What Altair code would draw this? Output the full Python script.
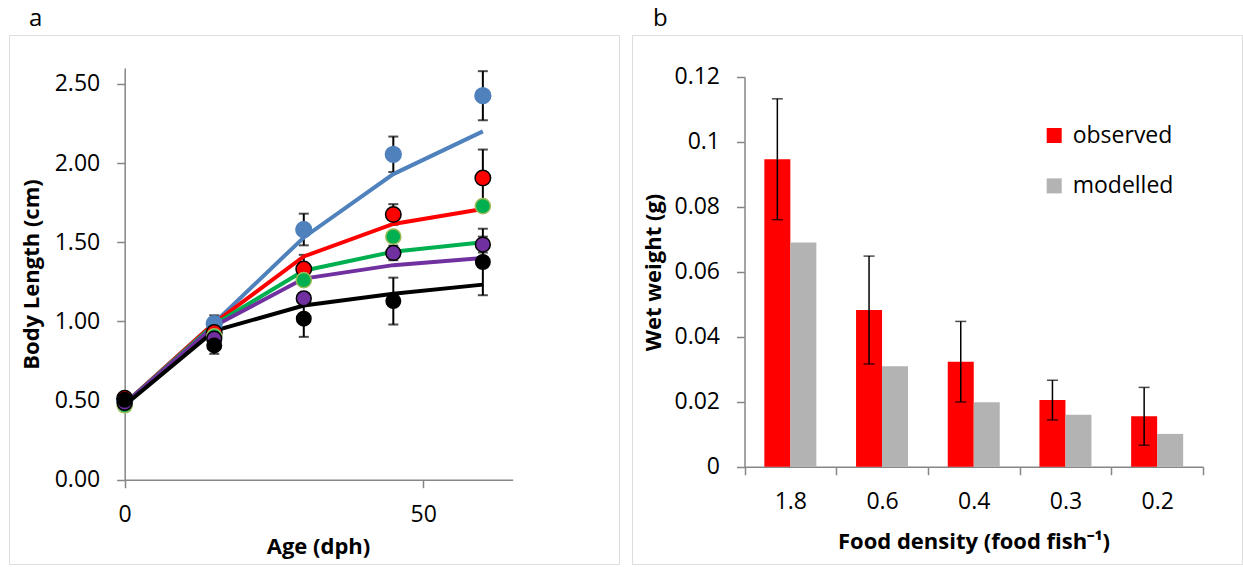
import altair as alt
import pandas as pd

# ---------------- data: panel a ----------------
ages = [0, 15, 30, 45, 60]
densities = ["1.8", "0.6", "0.4", "0.3", "0.2"]

obs_18 = [0.50, 0.985, 1.58, 2.055, 2.425]
obs_06 = [0.515, 0.93, 1.33, 1.675, 1.905]
obs_04 = [0.47, 0.905, 1.26, 1.535, 1.728]
obs_03 = [0.485, 0.89, 1.145, 1.432, 1.485]
obs_02 = [0.505, 0.848, 1.017, 1.128, 1.375]

err_18 = [0.0, 0.053, 0.10, 0.112, 0.155]
err_06 = [0.0, 0.03, 0.09, 0.065, 0.18]
err_04 = [0.0, 0.03, 0.03, 0.03, 0.03]
err_03 = [0.0, 0.03, 0.03, 0.046, 0.05]
err_02 = [0.0, 0.053, 0.115, 0.148, 0.21]

mod_18 = [0.48, 0.99, 1.53, 1.93, 2.20]
mod_06 = [0.48, 0.99, 1.41, 1.615, 1.71]
mod_04 = [0.48, 0.98, 1.32, 1.44, 1.50]
mod_03 = [0.48, 0.97, 1.27, 1.355, 1.40]
mod_02 = [0.47, 0.94, 1.10, 1.175, 1.232]

line_colors = ["#4F81BD", "#FF0000", "#00B050", "#7030A0", "#000000"]
fill_colors = ["#4F81BD", "#FF0000", "#00B050", "#7030A0", "#000000"]
edge_colors = ["#4F81BD", "#000000", "#9BBB59", "#000000", "#000000"]
marker_sizes = [250, 210, 210, 135, 140]

# ---------------- data: panel b ----------------
food_cats = ["1.8", "0.6", "0.4", "0.3", "0.2"]
observed = [0.0946, 0.0482, 0.0323, 0.0205, 0.0155]
modelled = [0.069, 0.0309, 0.0198, 0.016, 0.0101]
obs_err = [0.0186, 0.0166, 0.0124, 0.0061, 0.0089]
bar_types = ["observed", "modelled"]
bar_colors = ["#FF0000", "#B3B3B3"]

panel_labels = ["a", "b"]

FONT = "Open Sans"
AX = "#868686"

# ---------------- tables ----------------
obs_rows, mod_rows = [], []
for i, (d, ov, ev, mv) in enumerate(zip(
        densities,
        [obs_18, obs_06, obs_04, obs_03, obs_02],
        [err_18, err_06, err_04, err_03, err_02],
        [mod_18, mod_06, mod_04, mod_03, mod_02])):
    for a, o, e, m in zip(ages, ov, ev, mv):
        obs_rows.append(dict(density=d, k=i, age=a, value=o, lo=o - e, hi=o + e))
        mod_rows.append(dict(density=d, k=i, age=a, model=m))
obs_df = pd.DataFrame(obs_rows)
mod_df = pd.DataFrame(mod_rows)

bar_rows, err_rows = [], []
for c, o, m, e in zip(food_cats, observed, modelled, obs_err):
    bar_rows.append(dict(food=c, type="observed", value=o))
    bar_rows.append(dict(food=c, type="modelled", value=m))
    err_rows.append(dict(food=c, type="observed", lo=o - e, hi=o + e))
bar_df = pd.DataFrame(bar_rows)
err_df = pd.DataFrame(err_rows)


def panel_label(txt, dx):
    return alt.Chart(pd.DataFrame({"t": [txt]})).mark_text(
        font=FONT, fontSize=24, color="#000000", align="left", baseline="alphabetic"
    ).encode(text="t:N", x=alt.value(dx), y=alt.value(-9))


# ---------------- panel a ----------------
W, H = 610, 529
ax_common = dict(
    domainColor=AX, domainWidth=1.5, tickColor=AX, tickWidth=1.5, tickSize=8,
    labelFont=FONT, labelFontSize=23, labelColor="#000000", labelFlush=False,
    titleFont=FONT, titleFontSize=22, titleFontWeight="bold", titleColor="#000000",
    grid=False,
)

xa = alt.X("age:Q",
           scale=alt.Scale(domain=[0, 65], range=[115.7, 503.7], nice=False, zero=False),
           axis=alt.Axis(values=[0, 50], format="d", offset=-84.3, labelPadding=16,
                         title="Age (dph)", titleX=309, titleY=67, titleBaseline="middle",
                         titleAlign="center", **ax_common))
ya_scale = alt.Scale(domain=[0, 2.6], range=[444.7, 33], nice=False, zero=False)
ya_axis = alt.Axis(values=[0, 0.5, 1.0, 1.5, 2.0, 2.5], format=".2f", offset=-115.7,
                   labelPadding=17, title="Body Length (cm)", titleX=-93.7, titleY=239,
                   titleBaseline="middle", titleAlign="center", titleAngle=-90, **ax_common)

lines = alt.Chart(mod_df).mark_line(strokeWidth=4).encode(
    x=xa,
    y=alt.Y("model:Q", scale=ya_scale, axis=ya_axis),
    color=alt.Color("density:N", scale=alt.Scale(domain=densities, range=line_colors), legend=None),
)

err_base = alt.Chart(obs_df).transform_filter("datum.hi > datum.lo")
err_rule = err_base.mark_rule(color="black", strokeWidth=2).encode(
    x=xa, y=alt.Y("lo:Q", scale=ya_scale, axis=ya_axis), y2="hi:Q")
cap_lo = err_base.mark_tick(color="black", thickness=2, size=10, orient="horizontal").encode(
    x=xa, y=alt.Y("lo:Q", scale=ya_scale, axis=ya_axis))
cap_hi = err_base.mark_tick(color="black", thickness=2, size=10, orient="horizontal").encode(
    x=xa, y=alt.Y("hi:Q", scale=ya_scale, axis=ya_axis))

leg_a = alt.Legend(orient="none", legendX=513.7, legendY=47, title=None,
                   labelFont=FONT, labelFontSize=23, labelColor="#000000",
                   labelOffset=22, rowPadding=39, symbolStrokeWidth=1.5, padding=0)
points = alt.Chart(obs_df).mark_point(filled=True, shape="circle", opacity=1,
                                      strokeWidth=1.5).encode(
    x=xa,
    y=alt.Y("value:Q", scale=ya_scale, axis=ya_axis),
    fill=alt.Fill("density:N", scale=alt.Scale(domain=densities, range=fill_colors), legend=leg_a),
    stroke=alt.Stroke("density:N", scale=alt.Scale(domain=densities, range=edge_colors), legend=leg_a),
    size=alt.Size("density:N", scale=alt.Scale(domain=densities, range=marker_sizes), legend=leg_a),
    order=alt.Order("k:Q"),
)

panel_a = alt.layer(err_rule, cap_lo, cap_hi, lines, points,
                    panel_label(panel_labels[0], 20)).properties(width=W, height=H)

# ---------------- panel b ----------------
xb = alt.X("food:N", sort=food_cats,
           scale=alt.Scale(domain=food_cats, range=[112.5, 571], paddingInner=0, paddingOuter=0),
           axis=alt.Axis(labelAngle=0, tickBand="extent", offset=-97.3, labelPadding=16,
                         title="Food density (food fish\u207B\u00B9)", titleX=341.5, titleY=75,
                         titleBaseline="middle", titleAlign="center", **ax_common))
xoff = alt.XOffset("type:N", sort=bar_types,
                   scale=alt.Scale(domain=bar_types, paddingInner=0, paddingOuter=0.763))
yb_scale = alt.Scale(domain=[0, 0.12], range=[431.7, 41.7], nice=False)
yb_axis = alt.Axis(values=[0, 0.02, 0.04, 0.06, 0.08, 0.1, 0.12], format=".2~f",
                   offset=-112.5, labelPadding=17, title="Wet weight (g)",
                   titleX=-91.5, titleY=237, titleBaseline="middle", titleAlign="center",
                   titleAngle=-90, **ax_common)

leg_b = alt.Legend(orient="none", legendX=410.7, legendY=89, title=None,
                   labelFont=FONT, labelFontSize=23, labelColor="#000000",
                   labelOffset=7, rowPadding=26.4, symbolType="square", symbolSize=225,
                   symbolStrokeWidth=0, padding=0)
bars = alt.Chart(bar_df).mark_bar().encode(
    x=xb, xOffset=xoff,
    y=alt.Y("value:Q", scale=yb_scale, axis=yb_axis),
    color=alt.Color("type:N", scale=alt.Scale(domain=bar_types, range=bar_colors), legend=leg_b),
)
eb_rule = alt.Chart(err_df).mark_rule(color="black", strokeWidth=1.5).encode(
    x=xb, xOffset=xoff, y=alt.Y("lo:Q", scale=yb_scale, axis=yb_axis), y2="hi:Q")
eb_lo = alt.Chart(err_df).mark_tick(color="black", thickness=1.5, size=11, orient="horizontal").encode(
    x=xb, xOffset=xoff, y=alt.Y("lo:Q", scale=yb_scale, axis=yb_axis))
eb_hi = alt.Chart(err_df).mark_tick(color="black", thickness=1.5, size=11, orient="horizontal").encode(
    x=xb, xOffset=xoff, y=alt.Y("hi:Q", scale=yb_scale, axis=yb_axis))

panel_b = alt.layer(bars, eb_rule, eb_lo, eb_hi,
                    panel_label(panel_labels[1], 21)).properties(width=W, height=H)

chart = alt.hconcat(panel_a, panel_b, spacing=11).resolve_scale(
    color="independent", fill="independent", stroke="independent", size="independent",
    x="independent", y="independent", xOffset="independent"
).resolve_legend(color="independent").properties(
    padding={"left": 8, "top": 6, "right": 0, "bottom": 0}
).configure_view(stroke="#898989", strokeWidth=1.5).configure(background="white")

chart.save("out.html", embed_options={"renderer": "svg", "actions": False})
